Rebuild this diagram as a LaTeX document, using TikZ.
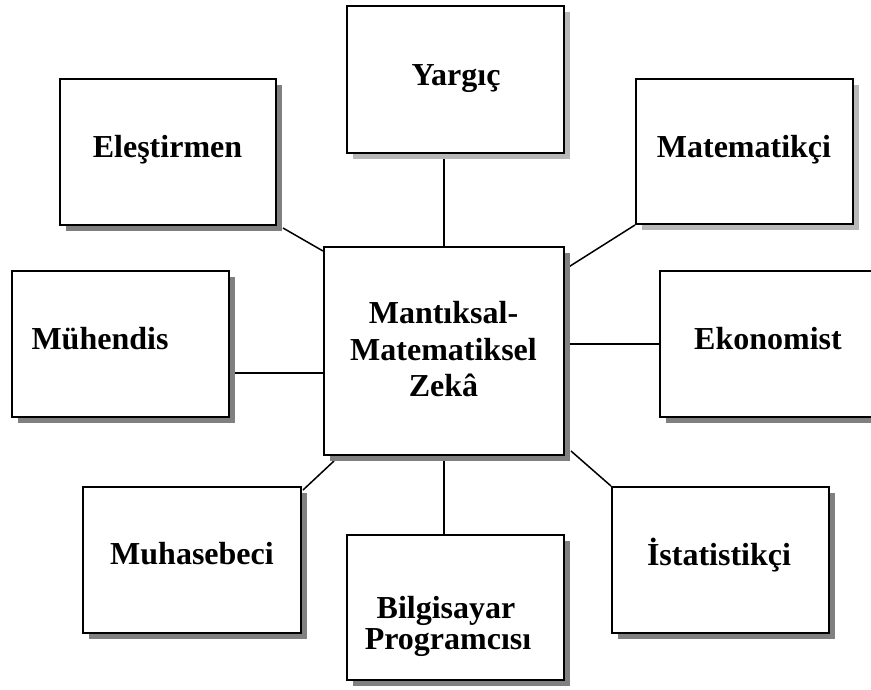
\documentclass[tikz,border=0pt]{standalone}
\usepackage{fontspec}
\setmainfont{Liberation Serif}
\usetikzlibrary{shadows,backgrounds}
\begin{document}
\begin{tikzpicture}[x=1pt,y=-1pt,
  box/.style={draw, line width=2pt, fill=white, inner sep=0pt},
  darkshadow/.style={drop shadow={shadow xshift=6pt, shadow yshift=-6pt, fill=black!50, opacity=1}},
  lightshadow/.style={drop shadow={shadow xshift=6pt, shadow yshift=-6pt, fill=black!28, opacity=1}},
  lbl/.style={anchor=base, inner sep=0pt, font=\fontsize{32}{37}\selectfont\bfseries},
  conn/.style={line width=1.5pt}]
\path[use as bounding box] (0,0) rectangle (871,689);
% boxes
\node[box, lightshadow, minimum width=217pt, minimum height=147pt] (yar) at (455.5,79.5) {};
\node[box, darkshadow, minimum width=216pt, minimum height=146pt] (ele) at (168,152) {};
\node[box, lightshadow, minimum width=217pt, minimum height=145pt] (mat) at (744.5,151.5) {};
\node[box, darkshadow, minimum width=217pt, minimum height=146pt] (muh) at (120.5,344) {};
\node[box, darkshadow, minimum width=240pt, minimum height=208pt] (cen) at (444,351) {};
\node[box, darkshadow, minimum width=217pt, minimum height=146pt] (eko) at (768.5,344) {};
\node[box, darkshadow, minimum width=218pt, minimum height=146pt] (mhs) at (192,560) {};
\node[box, darkshadow, minimum width=217pt, minimum height=145pt] (bil) at (455.5,607.5) {};
\node[box, darkshadow, minimum width=217pt, minimum height=146pt] (ist) at (720.5,560) {};
% texts
\node[lbl] (tyar) at (456,85) {Yargıç};
\node[lbl] (tele) at (167.5,157) {Eleştirmen};
\node[lbl] (tmat) at (744,157) {Matematikçi};
\node[lbl] (tmuh) at (100,349) {Mühendis};
\node[lbl] (teko) at (768,349) {Ekonomist};
\node[lbl] (tcen1) at (443.5,323) {Mantıksal-};
\node[lbl] (tcen2) at (443.5,360) {Matematiksel};
\node[lbl] (tcen3) at (443.5,396) {Zekâ};
\node[lbl] (tmhs) at (192,564) {Muhasebeci};
\node[lbl] (tbil1) at (446,618) {Bilgisayar};
\node[lbl] (tbil2) at (448,649) {Programcısı};
\node[lbl] (tist) at (719,565) {İstatistikçi};
% connectors
\coordinate (m1) at ([shift={(0,29)}]muh.east);
\begin{scope}[on background layer]
\draw[conn] (cen.north) -- (cen.north |- yar.south);
\draw[conn] (cen.south) -- (cen.south |- bil.north);
\draw[conn] (eko.west) -- (eko.west -| cen.east);
\draw[conn] (m1) -- (m1 -| cen.west);
\draw[conn] ([shift={(6,2)}]ele.south east) -- ([shift={(0,5)}]cen.north west);
\draw[conn] (mat.south west) -- ([shift={(2,22)}]cen.north east);
\draw[conn] ([shift={(1,4)}]mhs.north east) -- ([shift={(11,5)}]cen.south west);
\draw[conn] (ist.north west) -- ([shift={(6,-5)}]cen.south east);
\end{scope}
\end{tikzpicture}
\end{document}
